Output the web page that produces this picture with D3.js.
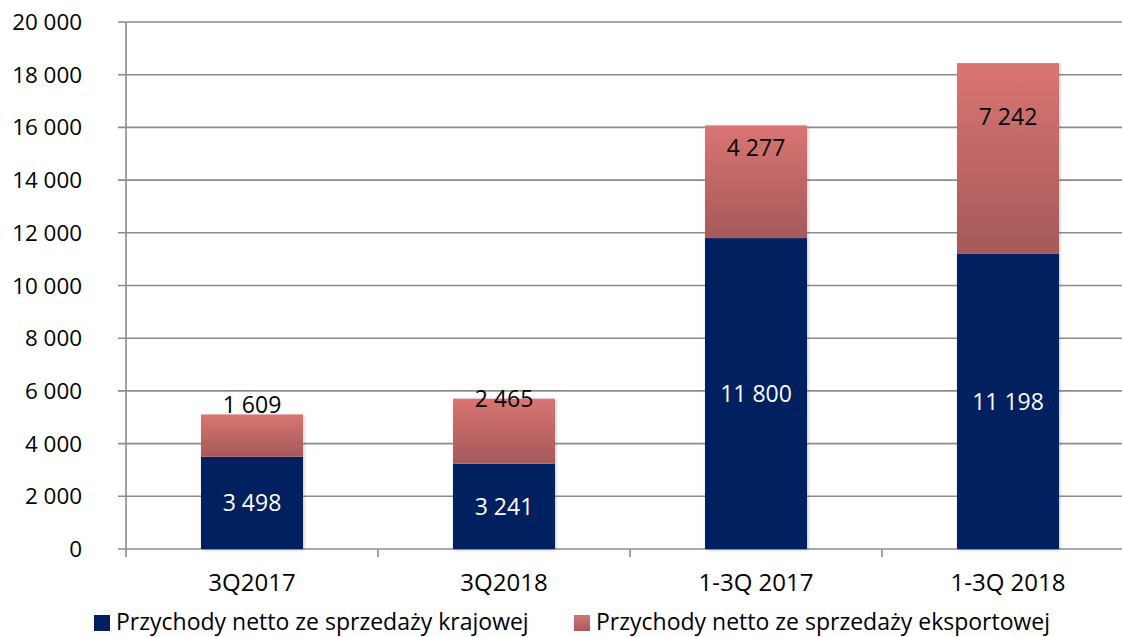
<!DOCTYPE html>
<html><head><meta charset="utf-8">
<script src="https://cdn.jsdelivr.net/npm/d3@7"></script>
<style>body{margin:0;background:#fff}svg{display:block}text{font-family:"Open Sans",sans-serif}</style>
</head><body>
<svg id="c" width="1122" height="637"></svg>
<script>
const categories = ["3Q2017", "3Q2018", "1-3Q 2017", "1-3Q 2018"];
const domestic = [3498, 3241, 11800, 11198];
const exportVals = [1609, 2465, 4277, 7242];
const seriesNames = ["Przychody netto ze sprzedaży krajowej", "Przychody netto ze sprzedaży eksportowej"];
const yTicks = [0, 2000, 4000, 6000, 8000, 10000, 12000, 14000, 16000, 18000, 20000];

// label anchor (data units) for export labels, as placed in the original
const exportLabelAt = [5465, 5712, 15220, 16410];

const svg = d3.select("#c");
const fmt = v => d3.format(",")(v).replace(/,/g, " ");

const x = d3.scaleBand().domain(categories).range([126, 1134]).padding(0);
const y = d3.scaleLinear().domain([0, 20000]).range([549, 22]);
const barW = x.bandwidth() * 0.405;

const defs = svg.append("defs");
const g = defs.append("linearGradient").attr("id", "exp").attr("x1", 0).attr("y1", 0).attr("x2", 0).attr("y2", 1);
g.append("stop").attr("offset", "0%").attr("stop-color", "#D97573");
g.append("stop").attr("offset", "100%").attr("stop-color", "#A55959");
const lg = defs.append("linearGradient").attr("id", "expL").attr("x1", 0).attr("y1", 0).attr("x2", 0).attr("y2", 1);
lg.append("stop").attr("offset", "0%").attr("stop-color", "#D97573");
lg.append("stop").attr("offset", "100%").attr("stop-color", "#A55959");
const f = defs.append("filter").attr("id", "sh").attr("x", "-10%").attr("y", "-10%").attr("width", "120%").attr("height", "120%");
f.append("feDropShadow").attr("dx", 1).attr("dy", 1).attr("stdDeviation", 1.5).attr("flood-color", "#000").attr("flood-opacity", 0.25);

// gridlines
svg.append("g").selectAll("line").data(yTicks).join("line")
  .attr("x1", 118).attr("x2", 1122)
  .attr("y1", d => y(d)).attr("y2", d => y(d))
  .attr("stroke", "#8C8C8C").attr("stroke-width", 1.6);

// y axis labels
svg.append("g").selectAll("text").data(yTicks).join("text")
  .attr("x", 82).attr("y", d => y(d)).attr("dy", "0.36em")
  .attr("text-anchor", "end").attr("font-size", 22.4).attr("fill", "#000")
  .text(fmt);

// axis line
svg.append("line").attr("x1", 126).attr("x2", 126).attr("y1", y(20000)).attr("y2", 557)
  .attr("stroke", "#8C8C8C").attr("stroke-width", 1.6);
// x ticks at band boundaries
svg.append("g").selectAll("line").data(categories.slice(1)).join("line")
  .attr("x1", d => x(d)).attr("x2", d => x(d)).attr("y1", 549).attr("y2", 557)
  .attr("stroke", "#8C8C8C").attr("stroke-width", 1.6);

// bars
const bars = svg.append("g");
categories.forEach((c, i) => {
  const cx = x(c) + x.bandwidth() / 2;
  bars.append("rect").attr("x", cx - barW / 2).attr("width", barW)
    .attr("y", y(domestic[i] + exportVals[i])).attr("height", y(0) - y(domestic[i] + exportVals[i]))
    .attr("fill", "#fff").attr("filter", "url(#sh)");
  bars.append("rect").attr("x", cx - barW / 2).attr("width", barW)
    .attr("y", y(domestic[i])).attr("height", y(0) - y(domestic[i]))
    .attr("fill", "#00205F");
  bars.append("rect").attr("x", cx - barW / 2).attr("width", barW)
    .attr("y", y(domestic[i] + exportVals[i])).attr("height", y(domestic[i]) - y(domestic[i] + exportVals[i]))
    .attr("fill", "url(#exp)");
  bars.append("text").attr("x", cx).attr("y", (y(0) + y(domestic[i])) / 2).attr("dy", "0.36em")
    .attr("text-anchor", "middle").attr("font-size", 23).attr("fill", "#fff").text(fmt(domestic[i]));
  bars.append("text").attr("x", cx).attr("y", y(exportLabelAt[i])).attr("dy", "0.36em")
    .attr("text-anchor", "middle").attr("font-size", 23).attr("fill", "#000").text(fmt(exportVals[i]));
});

// category labels
svg.append("g").selectAll("text").data(categories).join("text")
  .attr("x", d => x(d) + x.bandwidth() / 2).attr("y", 591)
  .attr("text-anchor", "middle").attr("font-size", 24).attr("fill", "#000").text(d => d);

// legend
const leg = svg.append("g");
const legX = [94, 574];
const legFill = ["#00205F", "url(#expL)"];
seriesNames.forEach((n, i) => {
  leg.append("rect").attr("x", legX[i]).attr("y", 615).attr("width", 16).attr("height", 16).attr("fill", legFill[i]);
  leg.append("text").attr("x", legX[i] + 22).attr("y", 630)
    .attr("font-size", 23).attr("fill", "#000").text(n);
});
</script>
</body></html>
